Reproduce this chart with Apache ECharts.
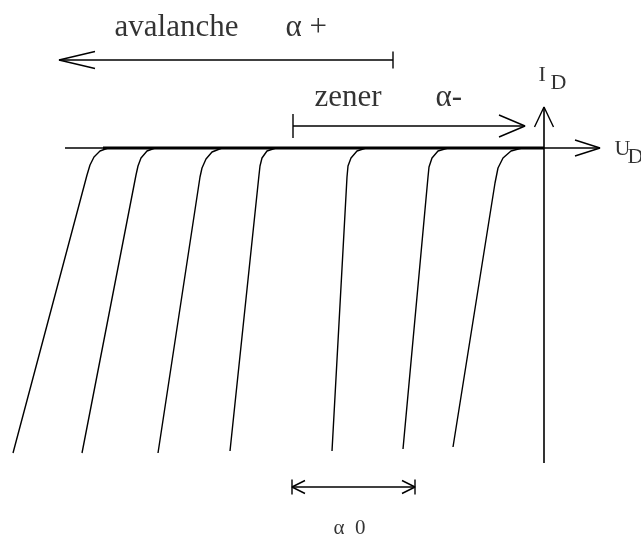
<!DOCTYPE html>
<html>
<head>
<meta charset="utf-8">
<script src="https://cdn.jsdelivr.net/npm/echarts@6/dist/echarts.min.js"></script>
<style>
  html, body { margin: 0; padding: 0; background: #fff; }
  #chart { width: 641px; height: 536px; }
</style>
</head>
<body>
<div id="chart"></div>
<script>
// Zener diode I-U characteristics, values in [U, I] (arbitrary units, origin at axes crossing)
var curve1 = [[-43.6, 0], [-44.4, -0.3], [-45.0, -0.9], [-45.4, -1.7], [-45.7, -2.7], [-53.1, -30.5]];
var curve2 = [[-38.9, 0], [-39.7, -0.3], [-40.3, -1.0], [-40.6, -1.8], [-40.8, -2.7], [-46.2, -30.5]];
var curve3 = [[-32.2, 0], [-33.2, -0.4], [-33.8, -1.1], [-34.2, -2.0], [-34.4, -2.9], [-38.6, -30.5]];
var curve4 = [[-26.8, 0], [-27.7, -0.3], [-28.2, -1.0], [-28.4, -1.8], [-28.5, -2.7], [-31.4, -30.3]];
var curve5 = [[-17.8, 0], [-18.7, -0.3], [-19.3, -1.0], [-19.6, -1.8], [-19.7, -2.9], [-21.2, -30.3]];
var curve6 = [[-9.6, 0], [-10.6, -0.3], [-11.2, -1.0], [-11.5, -1.9], [-11.6, -2.9], [-14.1, -30.1]];
var curve7 = [[-2.2, 0], [-3.3, -0.3], [-4.1, -1.0], [-4.6, -2.0], [-4.9, -3.5], [-9.1, -29.9]];
var curves = [curve1, curve2, curve3, curve4, curve5, curve6, curve7];

// axes extents
var uAxis = [-47.9, 5.6];      // U_D axis from .. to arrow tip
var uAxisBold = [-44.1, 0];    // heavy part of U axis
var iAxis = [-31.5, 4.1];      // I_D axis from .. to arrow tip

// annotation arrows: [I level, U tail(tick), U tip]
var avalancheArrow = [8.8, -15.1, -48.5];
var zenerArrow = [2.2, -25.1, -1.9];
var alpha0Arrow = [-33.9, -25.2, -12.9];

// text labels: [U, I]
var avalancheLabel = [-42.9, 12.0];
var alphaPlusLabel = [-25.8, 12.0];
var zenerLabel = [-22.9, 5.0];
var alphaMinusLabel = [-10.8, 5.0];
var iLabel = [-0.5, 7.2], iSubLabel = [0.7, 6.4];
var uLabel = [7.1, -0.2], uSubLabel = [8.4, -1.0];
var alpha0Label = [-19.4, -38.1];

var chart = echarts.init(document.getElementById('chart'));

function line(data, width) {
    return {
        type: 'line', data: data, symbol: 'none', silent: true, animation: false,
        lineStyle: {color: '#000', width: width || 1.4}
    };
}

// open "V" arrow head at tip, pointing along dir (unit vector)
function head(tip, dir, len, half) {
    var bx = -dir[0] * len, by = -dir[1] * len;
    var px = -dir[1] * half, py = dir[0] * half;
    return [[tip[0] + bx + px, tip[1] + by + py], tip, [tip[0] + bx - px, tip[1] + by - py]];
}

function tick(u, i, half) {
    return [[u, i - half], [u, i + half]];
}

var series = [];
curves.forEach(function (c) {
    series.push(line(c, 1.4));
});

// U axis
series.push(line([[uAxis[0], 0], [uAxis[1], 0]], 1.6));
series.push(line([[uAxisBold[0], 0], [uAxisBold[1], 0]], 3));
series.push(line(head([uAxis[1], 0], [1, 0], 2.5, 0.8), 1.4));
// I axis
series.push(line([[0, iAxis[0]], [0, iAxis[1]]], 1.6));
series.push(line(head([0, iAxis[1]], [0, 1], 2.0, 0.95), 1.4));

// avalanche arrow
series.push(line([[avalancheArrow[1], avalancheArrow[0]], [avalancheArrow[2], avalancheArrow[0]]]));
series.push(line(tick(avalancheArrow[1], avalancheArrow[0], 0.85)));
series.push(line(head([avalancheArrow[2], avalancheArrow[0]], [-1, 0], 3.6, 0.85)));
// zener arrow
series.push(line([[zenerArrow[1], zenerArrow[0]], [zenerArrow[2], zenerArrow[0]]]));
series.push(line(tick(zenerArrow[1], zenerArrow[0], 1.2)));
series.push(line(head([zenerArrow[2], zenerArrow[0]], [1, 0], 2.6, 1.1)));
// alpha 0 double arrow
series.push(line([[alpha0Arrow[1], alpha0Arrow[0]], [alpha0Arrow[2], alpha0Arrow[0]]]));
series.push(line(tick(alpha0Arrow[1], alpha0Arrow[0], 0.75)));
series.push(line(tick(alpha0Arrow[2], alpha0Arrow[0], 0.75)));
series.push(line(head([alpha0Arrow[1], alpha0Arrow[0]], [-1, 0], 1.3, 0.65)));
series.push(line(head([alpha0Arrow[2], alpha0Arrow[0]], [1, 0], 1.3, 0.65)));

function txt(pos, text, size, align) {
    return {
        value: pos,
        label: {
            show: true, formatter: text, position: [0, 0],
            align: align || 'left', verticalAlign: 'middle',
            fontFamily: 'Liberation Serif', fontSize: size, color: '#000'
        }
    };
}

series.push({
    type: 'scatter', symbolSize: 1, silent: true, animation: false,
    itemStyle: {color: 'rgba(0,0,0,0)'},
    data: [
        txt(avalancheLabel, 'avalanche', 31),
        txt(alphaPlusLabel, 'α +', 31),
        txt(zenerLabel, 'zener', 31),
        txt(alphaMinusLabel, 'α-', 31),
        txt(iLabel, 'I', 22),
        txt(iSubLabel, 'D', 22),
        txt(uLabel, 'U', 22),
        txt(uSubLabel, 'D', 22),
        txt(alpha0Label, 'α  0', 21, 'center')
    ]
});

chart.setOption({
    backgroundColor: '#fff',
    animation: false,
    grid: {left: 0, right: 0, top: 0, bottom: 0},
    xAxis: {type: 'value', min: -54.4, max: 9.7, show: false},
    yAxis: {type: 'value', min: -38.8, max: 14.8, show: false},
    series: series
});
</script>
</body>
</html>
